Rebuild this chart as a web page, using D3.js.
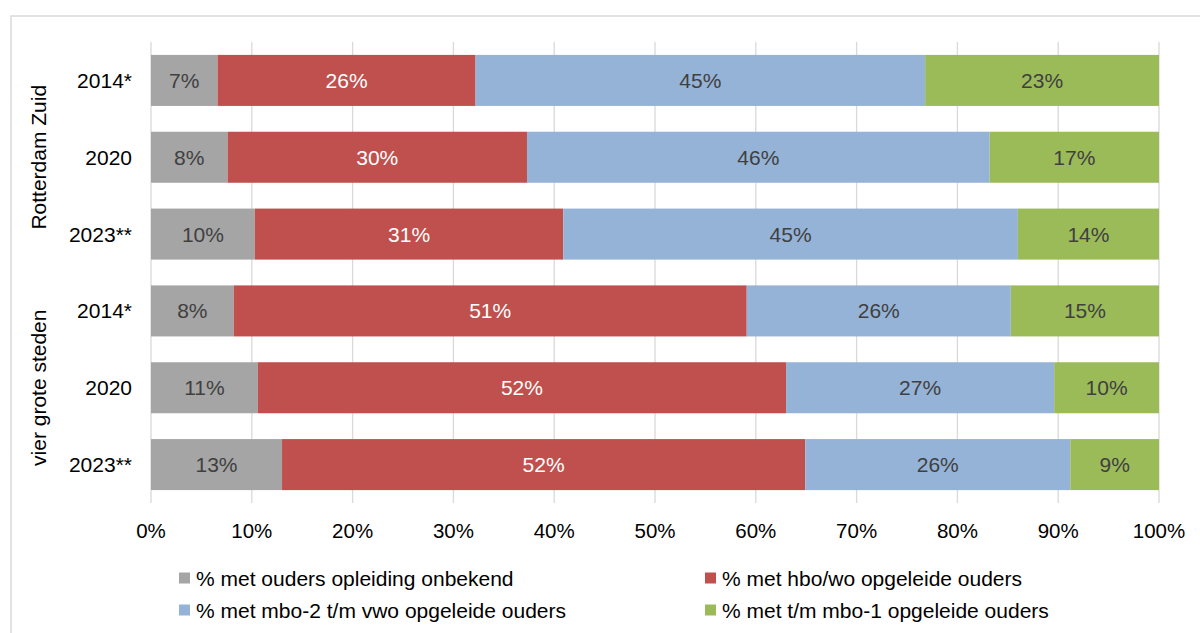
<!DOCTYPE html>
<html><head><meta charset="utf-8">
<script src="https://cdn.jsdelivr.net/npm/d3@7"></script>
<style>html,body{margin:0;padding:0;background:#fff;}svg{display:block;font-family:"Liberation Sans",Arial,sans-serif;}</style>
</head><body>
<svg id="c" width="1200" height="633"></svg>
<script>
const groups = ["Rotterdam Zuid", "vier grote steden"];
const years = ["2014*", "2020", "2023**"];
const rowLabels = ["2014*", "2020", "2023**", "2014*", "2020", "2023**"];
const seriesNames = [
  "% met ouders opleiding onbekend",
  "% met hbo/wo opgeleide ouders",
  "% met mbo-2 t/m vwo opgeleide ouders",
  "% met t/m mbo-1 opgeleide ouders"
];
const onbekend = [6.6, 7.6, 10.3, 8.2, 10.6, 13.0];
const hbo = [25.6, 29.7, 30.6, 50.9, 52.4, 51.9];
const mbo2 = [44.6, 45.9, 45.1, 26.2, 26.6, 26.3];
const mbo1 = [23.2, 16.8, 14.0, 14.7, 10.4, 8.8];
const xTicks = [0, 10, 20, 30, 40, 50, 60, 70, 80, 90, 100];
const colors = ["#a5a5a5", "#c0504d", "#95b3d7", "#9bbb59"];
const labelColors = ["#404040", "#ffffff", "#404040", "#404040"];

const seriesData = [onbekend, hbo, mbo2, mbo1];
const rows = rowLabels.map((r, i) => {
  const o = {id: i, label: r};
  seriesNames.forEach((s, k) => o[s] = seriesData[k][i]);
  return o;
});

const svg = d3.select("#c");
// frame
svg.append("rect").attr("x", 11).attr("y", 16).attr("width", 1300).attr("height", 700)
  .attr("fill", "none").attr("stroke", "#d9d9d9").attr("stroke-width", 1.5);

const x = d3.scaleLinear().domain([0, 100]).range([151, 1159]);
const y = d3.scaleBand().domain(rows.map(d => d.id)).range([42, 503]).paddingInner(0.336).paddingOuter(0.168);

// gridlines
svg.append("g").selectAll("line").data(xTicks).join("line")
  .attr("x1", d => x(d)).attr("x2", d => x(d)).attr("y1", 42).attr("y2", 503)
  .attr("stroke", "#d9d9d9").attr("stroke-width", 1.3);

const stack = d3.stack().keys(seriesNames)(rows);
const gS = svg.append("g").selectAll("g").data(stack).join("g").attr("fill", (d, i) => colors[i]);
gS.selectAll("rect").data(d => d).join("rect")
  .attr("x", d => x(d[0])).attr("width", d => x(d[1]) - x(d[0]))
  .attr("y", d => y(d.data.id)).attr("height", y.bandwidth());

const gL = svg.append("g").selectAll("g").data(stack).join("g")
  .attr("fill", (d, i) => labelColors[i]);
gL.selectAll("text").data(d => d).join("text")
  .attr("x", d => (x(d[0]) + x(d[1])) / 2)
  .attr("y", d => y(d.data.id) + y.bandwidth() / 2)
  .attr("dy", "0.36em").attr("text-anchor", "middle").attr("font-size", 21)
  .text(d => Math.round(d[1] - d[0]) + "%");

// x tick labels
svg.append("g").selectAll("text").data(xTicks).join("text")
  .attr("x", d => x(d)).attr("y", 538).attr("text-anchor", "middle")
  .attr("font-size", 20.5).attr("fill", "#000").text(d => d + "%");

// category labels
svg.append("g").selectAll("text").data(rows).join("text")
  .attr("x", 132).attr("y", d => y(d.id) + y.bandwidth() / 2).attr("dy", "0.36em")
  .attr("text-anchor", "end").attr("font-size", 21).attr("fill", "#000").text(d => d.label);

// group labels
groups.forEach((g, gi) => {
  const top = y(gi * 3) - y.step() * y.paddingInner() / 2;
  const bot = y(gi * 3 + 2) + y.bandwidth() + y.step() * y.paddingInner() / 2;
  const cy = (top + bot) / 2;
  svg.append("text").attr("transform", `translate(46,${cy}) rotate(-90)`)
    .attr("text-anchor", "middle").attr("font-size", 21).attr("fill", "#000").text(g);
});

// legend
const legPos = [[179, 578], [705, 578], [179, 610], [705, 610]];
const leg = svg.append("g").selectAll("g").data(seriesNames).join("g")
  .attr("transform", (d, i) => `translate(${legPos[i][0]},${legPos[i][1]})`);
leg.append("rect").attr("x", 0).attr("y", -5.5).attr("width", 11).attr("height", 11)
  .attr("fill", (d, i) => colors[i]);
leg.append("text").attr("x", 17).attr("y", 0).attr("dy", "0.36em")
  .attr("font-size", 21).attr("fill", "#000").text(d => d);
</script>
</body></html>
